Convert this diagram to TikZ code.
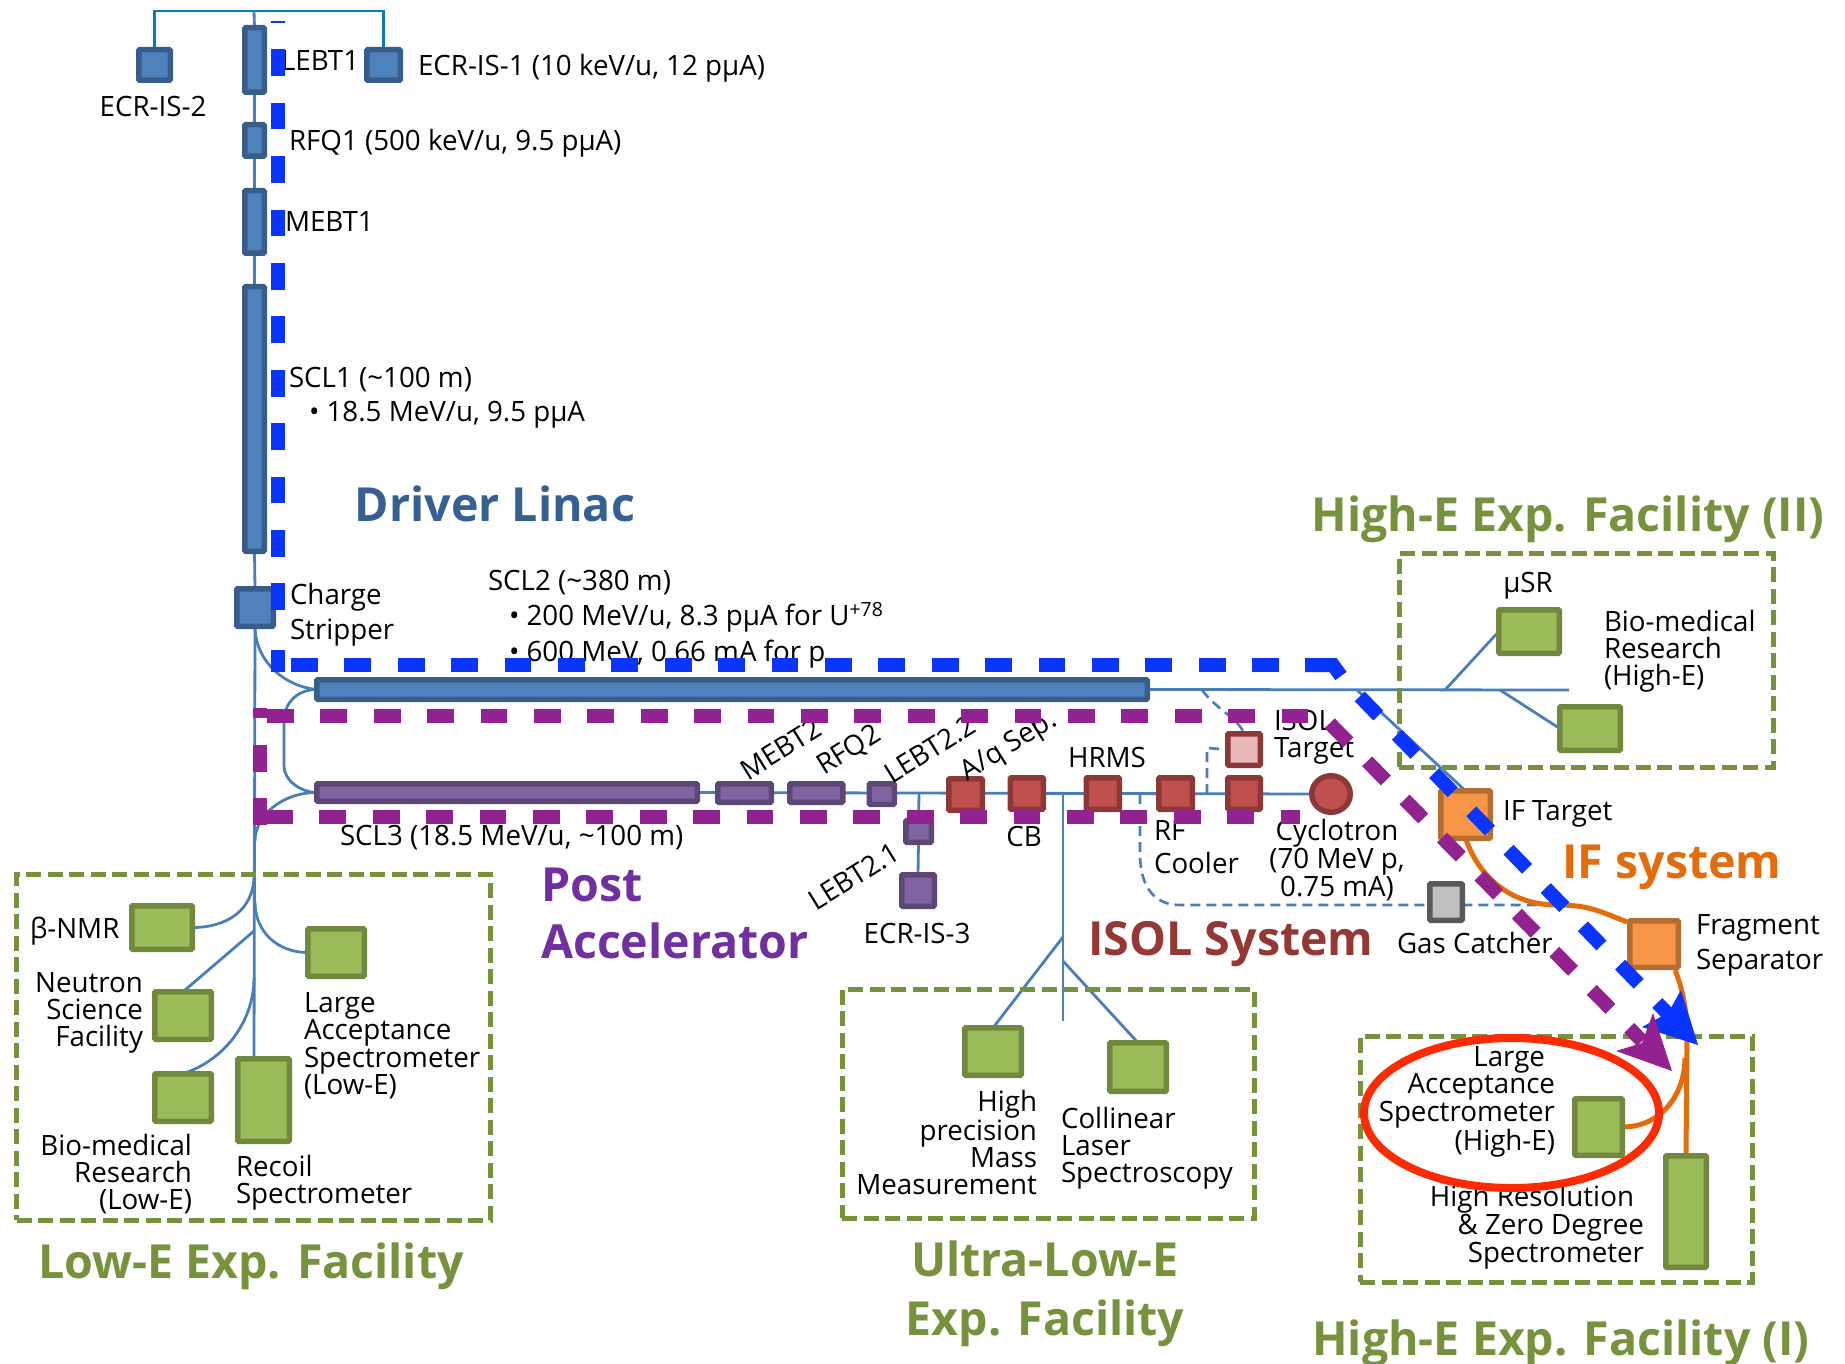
\documentclass[tikz,border=0pt]{standalone}
\usepackage{fontspec}
\setmainfont[FakeStretch=0.99]{Open Sans}
\usetikzlibrary{shapes.geometric,backgrounds}
\definecolor{bluefill}{HTML}{4F81BD}\definecolor{blueedge}{HTML}{385D8A}
\definecolor{purfill}{HTML}{8064A2}\definecolor{puredge}{HTML}{5C4776}
\definecolor{redfill}{HTML}{C0504D}\definecolor{rededge}{HTML}{8C3836}
\definecolor{grnfill}{HTML}{9BBB59}\definecolor{grnedge}{HTML}{71893F}
\definecolor{orgfill}{HTML}{F79646}\definecolor{orgedge}{HTML}{B66D31}
\definecolor{gryfill}{HTML}{BFBFBF}\definecolor{gryedge}{HTML}{595959}
\definecolor{pinkfill}{HTML}{E6B9B8}
\definecolor{beam}{HTML}{4A7EBB}\definecolor{topbeam}{HTML}{0A78BE}
\definecolor{dashblue}{HTML}{0A34FF}\definecolor{dashpur}{HTML}{92228F}
\definecolor{orgline}{HTML}{E46C0A}\definecolor{ringred}{HTML}{FF2A00}
\definecolor{ttlblue}{HTML}{376092}\definecolor{ttlgrn}{HTML}{76923C}
\definecolor{ttlpur}{HTML}{7030A0}\definecolor{ttlred}{HTML}{953735}
\tikzset{
  unit/.style={draw,rectangle,line width=5.5pt,rounded corners=1pt,inner sep=0pt,outer sep=0pt},
  blueunit/.style={unit,fill=bluefill,draw=blueedge},
  purunit/.style={unit,fill=purfill,draw=puredge},
  redunit/.style={unit,fill=redfill,draw=rededge},
  pinkunit/.style={unit,fill=pinkfill,draw=rededge},
  grnunit/.style={unit,fill=grnfill,draw=grnedge},
  orgunit/.style={unit,fill=orgfill,draw=orgedge},
  gryunit/.style={unit,fill=gryfill,draw=gryedge},
  facility/.style={draw=ttlgrn,line width=5pt,dash pattern=on 15pt off 6.5pt,rectangle,inner sep=0pt,outer sep=0pt},
  beamline/.style={draw=beam,line width=2.8pt},
  topline/.style={draw=topbeam,line width=2.5pt},
  isolline/.style={draw=beam,line width=2.6pt,dash pattern=on 10pt off 6pt},
  orgpath/.style={draw=orgline,line width=5pt},
  bluedash/.style={draw=dashblue,line width=14pt,dash pattern=on 26.7pt off 26.7pt},
  purdash/.style={draw=dashpur,line width=14pt,dash pattern=on 26.7pt off 26.7pt},
  txt/.style={font=\fontsize{28}{27}\selectfont,inner sep=0pt,outer sep=0pt,text=black,
    execute at begin node=\strut,execute at end node=\strut},
  ttl/.style={font=\fontsize{47}{46}\selectfont\bfseries,inner sep=0pt,outer sep=0pt,
    execute at begin node=\strut,execute at end node=\strut},
}
\newcommand\ubox[6]{\node[#1,minimum width={(#5-#3-5.5)*1pt},minimum height={(#6-#4-5.5)*1pt}] (#2) at ({(#3+#5)/2},{(#4+#6)/2}) {};}
\newcommand\facbox[5]{\node[facility,minimum width={(#4-#2)*1pt},minimum height={(#5-#3)*1pt}] (#1) at ({(#2+#4)/2},{(#3+#5)/2}) {};}
\newcommand\tx[5][]{\node[txt,#1] (#2) at ({#3},{#4+4.5}) {#5};}
\newcommand\ttlx[5][]{\node[ttl,#1] (#2) at ({#3},{#4+7.3}) {#5};}
\begin{document}
\begin{tikzpicture}[x=1pt,y=-1pt]
\useasboundingbox (0,0) rectangle (1845,1364);
% facility frames
\facbox{flow}{16.5}{874}{490}{1220}
\facbox{fultra}{842}{989}{1254}{1218}
\facbox{fhighone}{1360}{1036}{1752}{1282}
\facbox{fhightwo}{1399}{553}{1773}{767}
% driver linac
\ubox{blueunit}{ecrtwo}{136}{47}{173}{83}
\ubox{blueunit}{ecrone}{364}{47}{403}{83}
\ubox{blueunit}{lebtone}{242}{25}{267}{95}
\ubox{blueunit}{rfqone}{242}{122}{267}{159}
\ubox{blueunit}{mebtone}{242}{188}{267}{256}
\ubox{blueunit}{sclone}{242}{284}{267}{554}
\ubox{blueunit}{stripper}{234}{586}{276}{629}
\ubox{blueunit}{scltwo}{314}{677}{1150}{702}
% post accelerator
\ubox{purunit}{sclthree}{314}{781}{700}{804}
\ubox{purunit}{mebttwo}{715}{781}{774}{805}
\ubox{purunit}{rfqtwo}{787}{781}{845.5}{805}
\ubox{purunit}{lebttt}{866.5}{781}{897}{807}
\ubox{purunit}{lebtto}{903}{818}{934}{845}
\ubox{purunit}{ecrthree}{899}{872}{937}{909}
% ISOL
\ubox{redunit}{aqsep}{946}{776}{985}{813}
\ubox{redunit}{cb}{1007.6}{775}{1046}{812}
\ubox{redunit}{hrms}{1083.5}{775}{1122}{812}
\ubox{redunit}{rfcool}{1156}{775}{1195}{812}
\ubox{redunit}{isolsrc}{1225}{775}{1263}{812}
\ubox{pinkunit}{isoltgt}{1225}{731}{1263}{768}
\node[ellipse,draw=rededge,fill=redfill,line width=5.5pt,inner sep=0pt,outer sep=0pt,minimum width=38.5pt,minimum height=36.5pt] (cyclo) at (1331,794) {};
\ubox{gryunit}{gascatch}{1427}{881}{1465}{923}
% IF system
\ubox{orgunit}{iftgt}{1438}{788}{1493}{841}
\ubox{orgunit}{fragsep}{1627}{918}{1681}{970}
% experiment stations
\ubox{grnunit}{nmr}{129}{903}{195}{952}
\ubox{grnunit}{lowlas}{305}{926}{367}{979}
\ubox{grnunit}{neutron}{152}{989}{214}{1042}
\ubox{grnunit}{lowbio}{152}{1071}{214}{1124}
\ubox{grnunit}{recoil}{235}{1056}{292}{1144}
\ubox{grnunit}{mass}{962}{1025}{1024}{1078}
\ubox{grnunit}{laser}{1107}{1040}{1169}{1094}
\ubox{grnunit}{musr}{1496}{607}{1562}{656}
\ubox{grnunit}{highbio}{1557}{704}{1623}{753}
\ubox{grnunit}{highlas}{1572}{1096}{1625}{1158}
\ubox{grnunit}{hires}{1663}{1153}{1709}{1270}
% junction coordinates
\coordinate (topj) at (254,11);
\coordinate (lowend) at (254,1056);
\coordinate (jnmr) at (254,875);
\coordinate (jlas) at (255,902);
\coordinate (jneu) at (254,931);
\coordinate (jbio) at (254,978);
\coordinate (jpost) at (255,841);
\coordinate (bendA) at (284,720);
\coordinate (bendB) at (284,766);
\coordinate (jlebt) at (919,794);
\coordinate (jultra) at (1063,794);
\coordinate (ultraend) at (1063,1021);
\coordinate (jmass) at (1063,937);
\coordinate (jlaser) at (1063,961);
\coordinate (highend) at (1569,690);
\coordinate (jif) at (1357,690);
\coordinate (jmusr) at (1445,690);
\coordinate (jhbio) at (1500,690);
\coordinate (jisol) at (1202,690);
\coordinate (jtgt) at (1207,794);
\coordinate (kink) at (1207,748);
\coordinate (jgas) at (1140,794);
\coordinate (gasA) at (1140,853);
\coordinate (gasB) at (1180,905);
\coordinate (gasend) at (1545,905);
\coordinate (bendM) at (1557,905);
\coordinate (fragin) at (1627,922);
\coordinate (fragout) at (1675,970);
\coordinate (orgjoin) at (1687,1040);
\coordinate (orgmeet) at (1685,1058);
% thin beam lines
\begin{pgfonlayer}{background}
\draw[topline] (ecrtwo.north) |- (topj) -| (ecrone.north);
\draw[beamline] (topj) -- (lebtone.north);
\draw[beamline] (lebtone.south) -- (rfqone.north);
\draw[beamline] (rfqone.south) -- (mebtone.north);
\draw[beamline] (mebtone.south) -- (sclone.north);
\draw[beamline] (sclone.south) -- (stripper.north);
\draw[beamline] (stripper.south) -- (lowend);
\draw[beamline] (stripper.south) .. controls +(0,35) and +(-32,-3) .. (scltwo.west);
\draw[beamline] (scltwo.west) .. controls +(-22,0) and +(0,-14) .. (bendA) -- (bendB) .. controls +(0,15) and +(-15,0) .. (sclthree.west);
\draw[beamline] (sclthree.west) .. controls +(-35,0) and +(0,-25) .. (jpost);
\draw[beamline] (nmr.east) .. controls +(35,0) and +(0,35) .. (jnmr);
\draw[beamline] (jlas) .. controls +(0,30) and +(-30,0) .. (lowlas.west);
\draw[beamline] (neutron.north) -- (jneu);
\draw[beamline] (lowbio.north) .. controls +(45,-15) and +(0,40) .. (jbio);
\draw[beamline] (sclthree.east) -- (cyclo.west);
\draw[beamline] (jlebt) -- (lebtto.north);
\draw[beamline] (lebtto.south) -- (ecrthree.north);
\draw[beamline] (jultra) -- (ultraend);
\draw[beamline] (jmass) -- (mass.north);
\draw[beamline] (jlaser) -- (laser.north);
\draw[beamline] (scltwo.east) -- (highend);
\draw[beamline] (jif) -- (iftgt.north);
\draw[beamline] (jmusr) -- (musr.west);
\draw[beamline] (jhbio) -- (highbio.west);
\draw[isolline] (jisol) .. controls +(15,20) and +(-5,-15) .. (isoltgt.north);
\draw[isolline] (jtgt) -- (kink) -- (isoltgt.west);
\draw[isolline] (jgas) -- (gasA) .. controls +(0,35) and +(-25,0) .. (gasB) -- (gasend);
\draw[orgpath] (iftgt.south) .. controls +(12,35) and +(-50,0) .. (bendM) .. controls +(30,0) and +(-30,-12) .. (fragin);
\draw[orgpath] (fragout) .. controls +(8,20) and +(0,-30) .. (orgjoin) -- (hires.north);
\draw[orgpath] (highlas.east) .. controls +(40,0) and +(0,35) .. (orgmeet);
\end{pgfonlayer}
% labels
\tx[anchor=center]{lecrtwo}{153}{106}{ECR-IS-2}
\tx[anchor=west]{llebtone}{281}{60}{LEBT1}
\tx[anchor=west]{lecrone}{418}{64}{ECR-IS-1 (10 keV/u, 12 pµA)}
\tx[anchor=west]{lrfqone}{289}{139}{RFQ1 (500 keV/u, 9.5 pµA)}
\tx[anchor=west]{lmebtone}{285}{221}{MEBT1}
\tx[anchor=west,align=left]{lsclone}{289}{394}{SCL1 (\textasciitilde100 m)\\[7pt]\hspace*{20pt}• 18.5 MeV/u, 9.5 pµA}
\tx[anchor=west,align=left]{lstrip}{290}{611}{Charge\\[7pt]Stripper}
\tx[anchor=west,align=left]{lscltwo}{488}{615}{SCL2 (\textasciitilde380 m)\\[7pt]\hspace*{21pt}• 200 MeV/u, 8.3 pµA for U\textsuperscript{+78}\\[6pt]\hspace*{21pt}• 600 MeV, 0.66 mA for p}
\tx[anchor=west]{lsclthree}{340}{835}{SCL3 (18.5 MeV/u, \textasciitilde100 m)}
\tx[rotate=32]{lmebttwo}{783}{748}{MEBT2}
\tx[rotate=32]{lrfqtwo}{850}{748}{RFQ2}
\tx[rotate=32]{llebttt}{932}{748}{LEBT2.2}
\tx[rotate=32]{laq}{1010}{743}{A/q Sep.}
\tx[rotate=32]{llebtto}{856}{875}{LEBT2.1}
\tx{lhrms}{1107}{757}{HRMS}
\tx{lcb}{1024}{836}{CB}
\tx[anchor=west,align=left]{lrf}{1154}{846.5}{RF\\[6pt]Cooler}
\tx[align=center]{lcyclo}{1337}{857.5}{Cyclotron\\(70 MeV p,\\0.75 mA)}
\tx[anchor=west,align=left]{lisol}{1274}{733.5}{ISOL\\Target}
\tx{lecrthree}{917}{933}{ECR-IS-3}
\tx[anchor=west]{liftgt}{1503}{810}{IF Target}
\tx[anchor=west]{lgas}{1397}{942}{Gas Catcher}
\tx[anchor=west,align=left]{lfrag}{1696}{942}{Fragment\\[7pt]Separator}
\tx{lmusr}{1528}{582}{µSR}
\tx[anchor=west,align=left]{lhbio}{1604}{647}{Bio-medical\\Research\\(High-E)}
\tx[anchor=east,align=right]{lhlas}{1555}{1098}{Large\hspace*{10pt}\\Acceptance\hspace*{10pt}\\Spectrometer\\(High-E)}
\tx[anchor=east,align=right]{lhires}{1644}{1223}{High Resolution\hspace*{10pt}\\\& Zero Degree\\Spectrometer}
\tx[anchor=west]{lnmr}{30}{927}{β-NMR}
\tx[anchor=east,align=right]{lneu}{143}{1009}{Neutron\\Science\\Facility}
\tx[anchor=west,align=left]{llowlas}{304}{1043.5}{Large\\Acceptance\\Spectrometer\\(Low-E)}
\tx[anchor=east,align=right]{llowbio}{192}{1171}{Bio-medical\\Research\hspace*{10pt}\\(Low-E)}
\tx[anchor=west,align=left]{lrecoil}{236}{1178.5}{Recoil\\Spectrometer}
\tx[anchor=east,align=right]{lmass}{1037}{1142}{High\\precision\\Mass\\Measurement}
\tx[anchor=west,align=left]{llaser}{1061}{1144.5}{Collinear\\Laser\\Spectroscopy}
% titles
\ttlx[text=ttlblue]{tdriver}{495}{503}{Driver Linac}
\ttlx[text=ttlgrn]{tlow}{251}{1260}{Low-E Exp. Facility}
\ttlx[text=ttlgrn]{thightwo}{1568}{513}{High-E Exp. Facility (II)}
\ttlx[text=ttlgrn]{thighone}{1561}{1337}{High-E Exp. Facility (I)}
\ttlx[text=ttlgrn,align=center]{tultra}{1045}{1287.5}{Ultra-Low-E\\[13pt]Exp. Facility}
\ttlx[text=ttlpur,anchor=west,align=left]{tpost}{541}{912.5}{Post\\[11pt]Accelerator}
\ttlx[text=ttlred]{tisol}{1231}{938}{ISOL System}
\ttlx[text=orgline]{tif}{1672}{861}{IF system}
% ring round the spectrometer
\node[ellipse,draw=ringred,line width=8pt,inner sep=0pt,outer sep=0pt,minimum width=295pt,minimum height=150pt] (ring) at (1511.5,1113) {};
% thick dashed beam routes
\coordinate (bvA) at (278,21);
\coordinate (bvB) at (278,610);
\coordinate (bvC) at (278,650);
\coordinate (bvD) at (278,672);
\coordinate (bhA) at (291,665);
\coordinate (bhB) at (1305,665);
\coordinate (bhC) at (1333,665);
\coordinate (bhD) at (1341,676);
\coordinate (bdA) at (1359.7,696.4);
\coordinate (bdB) at (1668,1014);
\draw[bluedash,dash phase=25pt] (bvA) -- (bvB);
\draw[draw=dashblue,line width=14pt] (bvC) -- (bvD);
\draw[bluedash] (bhA) -- (bhB);
\draw[draw=dashblue,line width=14pt] (bhB) -- (bhC) -- (bhD);
\draw[bluedash] (bdA) -- (bdB);
\fill[dashblue] (1698,1045) -- (1681,990) -- (1668,1013) -- (1642,1027) -- cycle;
\coordinate (pvA) at (260,708);
\coordinate (pvB) at (260,718);
\coordinate (pvC) at (260,745);
\coordinate (pvD) at (260,825);
\coordinate (phA) at (267,716);
\coordinate (phB) at (1309,716);
\coordinate (pbA) at (266,817);
\coordinate (pbB) at (1300,817);
\coordinate (pdA) at (1329.7,723.3);
\coordinate (pdB) at (1642,1041);
\draw[draw=dashpur,line width=14pt] (pvA) -- (pvB);
\draw[purdash] (pvC) -- (pvD);
\draw[purdash] (phA) -- (phB);
\draw[purdash] (pbA) -- (pbB);
\draw[purdash] (pdA) -- (pdB);
\fill[dashpur] (1672,1071) -- (1653,1013) -- (1642,1043) -- (1616,1051) -- cycle;
\end{tikzpicture}
\end{document}
